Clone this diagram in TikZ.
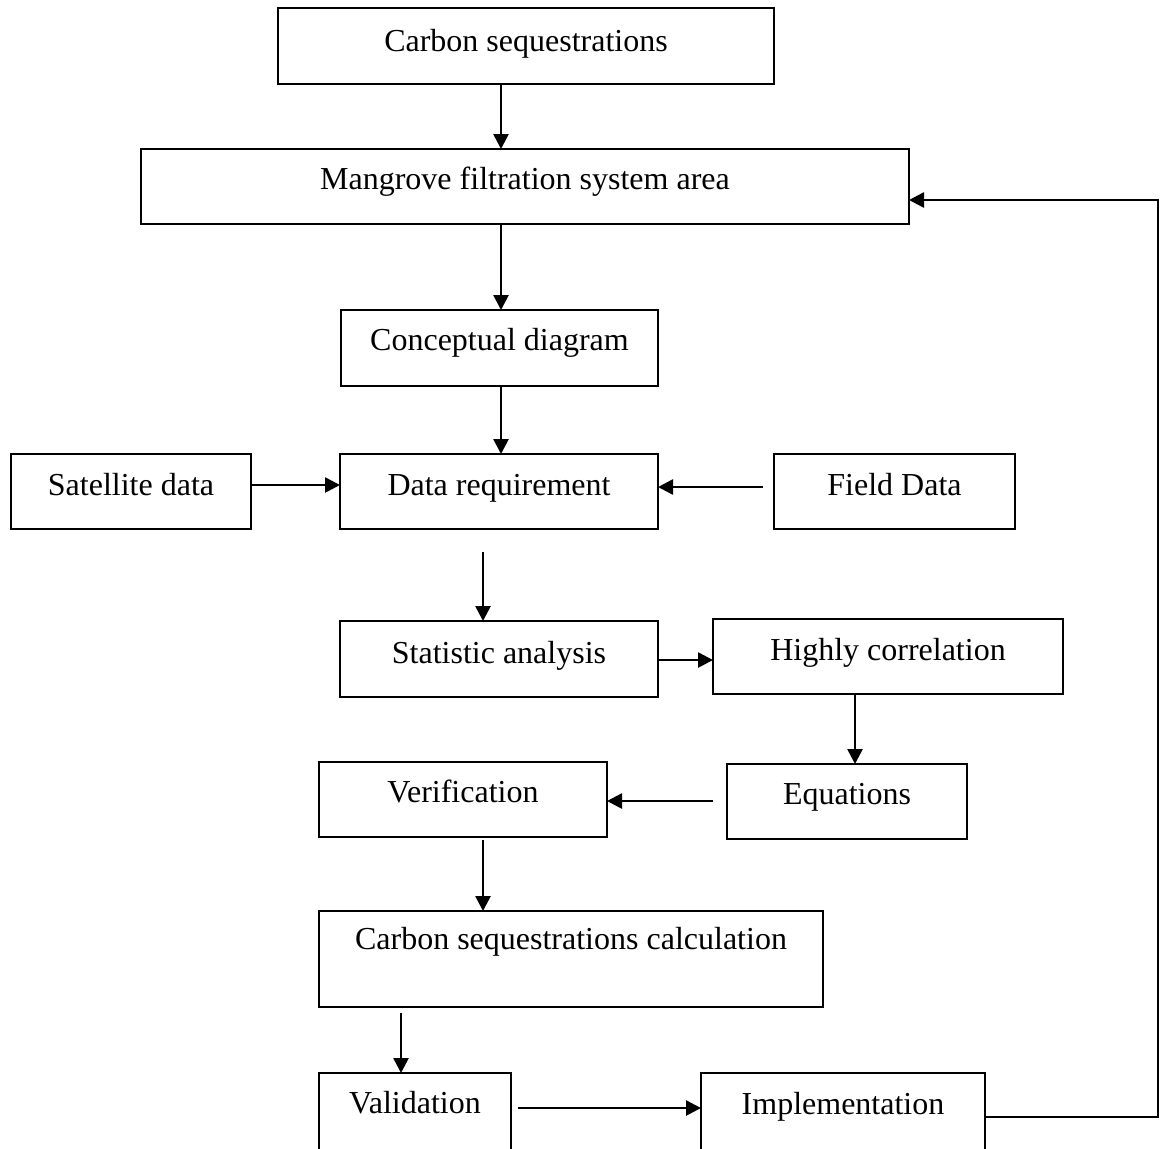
\documentclass[tikz,border=0pt]{standalone}
\usepackage{fontspec}
\setmainfont{Liberation Serif}
\usetikzlibrary{arrows.meta}
\begin{document}
\begin{tikzpicture}[x=0.5pt,y=-0.5pt,
  box/.style={draw, line width=1.1pt, rectangle, inner sep=0pt, outer sep=0pt,
    font=\fontsize{16pt}{19pt}\selectfont, text height=10pt, align=center},
  arr/.style={line width=1.3pt, -{Triangle[length=7.5pt,width=7.5pt]}},
  feed/.style={line width=1.3pt, line join=miter, -{Triangle[length=7.5pt,width=7.5pt]}}]
\useasboundingbox (0,0) rectangle (1161,1148);
% boxes
\node[box, minimum width=248pt, minimum height=38pt, text depth=5pt] (carbon) at (526,46) {Carbon sequestrations};
\node[box, minimum width=384pt, minimum height=37.5pt, text depth=7.5pt] (mangrove) at (525,186.5) {Mangrove filtration system area};
\node[box, minimum width=158.5pt, minimum height=38pt, text depth=8pt] (concept) at (499.5,348) {Conceptual diagram};
\node[box, minimum width=120pt, minimum height=37.5pt, text depth=6.5pt] (sat) at (131,491.5) {Satellite data};
\node[box, minimum width=159pt, minimum height=37.5pt, text depth=6.5pt] (datareq) at (499,491.5) {Data requirement};
\node[box, minimum width=120.5pt, minimum height=37.5pt, text depth=6.5pt] (field) at (894.5,491.5) {Field Data};
\node[box, minimum width=159pt, minimum height=38pt, text depth=6pt] (stat) at (499,659) {Statistic analysis};
\node[box, minimum width=175pt, minimum height=37.5pt, text depth=6.5pt] (highly) at (888,656.5) {Highly correlation};
\node[box, minimum width=120pt, minimum height=37.5pt, text depth=7.5pt] (eq) at (847,801.5) {Equations};
\node[box, minimum width=144pt, minimum height=37.5pt, text depth=7.5pt] (verif) at (463,799.5) {Verification};
\node[box, minimum width=252pt, minimum height=48pt, text depth=20pt] (calc) at (571,959) {Carbon sequestrations calculation};
\node[box, minimum width=96pt, minimum height=43.5pt, text depth=13.5pt] (valid) at (415,1116.5) {Validation};
\node[box, minimum width=142pt, minimum height=43.5pt, text depth=12.5pt] (impl) at (843,1116.5) {Implementation};
% guide coordinates
\coordinate (colA) at (501,0);
\coordinate (colB) at (483,0);
\coordinate (colC) at (855,0);
\coordinate (colD) at (401,0);
\coordinate (colE) at (1158,0);
\coordinate (rowS) at (0,485);
\coordinate (rowF) at (0,487);
\coordinate (rowSt) at (0,660);
\coordinate (rowE) at (0,801);
\coordinate (rowV) at (0,1108);
\coordinate (rowI) at (0,1117);
\coordinate (rowM) at (0,200);
% connectors
\draw[arr] (carbon.south -| colA) -- (mangrove.north -| colA);
\draw[arr] (mangrove.south -| colA) -- (concept.north -| colA);
\draw[arr] (concept.south -| colA) -- (datareq.north -| colA);
\draw[arr] (sat.east |- rowS) -- (datareq.west |- rowS);
\draw[arr, shorten <=5.5pt] (field.west |- rowF) -- (datareq.east |- rowF);
\draw[arr, shorten <=11.5pt] (datareq.south -| colB) -- (stat.north -| colB);
\draw[arr] (stat.east |- rowSt) -- (highly.west |- rowSt);
\draw[arr] (highly.south -| colC) -- (eq.north -| colC);
\draw[arr, shorten <=7pt] (eq.west |- rowE) -- (verif.east |- rowE);
\draw[arr, shorten <=1.5pt] (verif.south -| colB) -- (calc.north -| colB);
\draw[arr, shorten <=3pt] (calc.south -| colD) -- (valid.north -| colD);
\draw[arr, shorten <=3.5pt] (valid.east |- rowV) -- (impl.west |- rowV);
\draw[feed] (impl.east |- rowI) -| (colE |- rowM) -- (mangrove.east |- rowM);
\end{tikzpicture}
\end{document}
